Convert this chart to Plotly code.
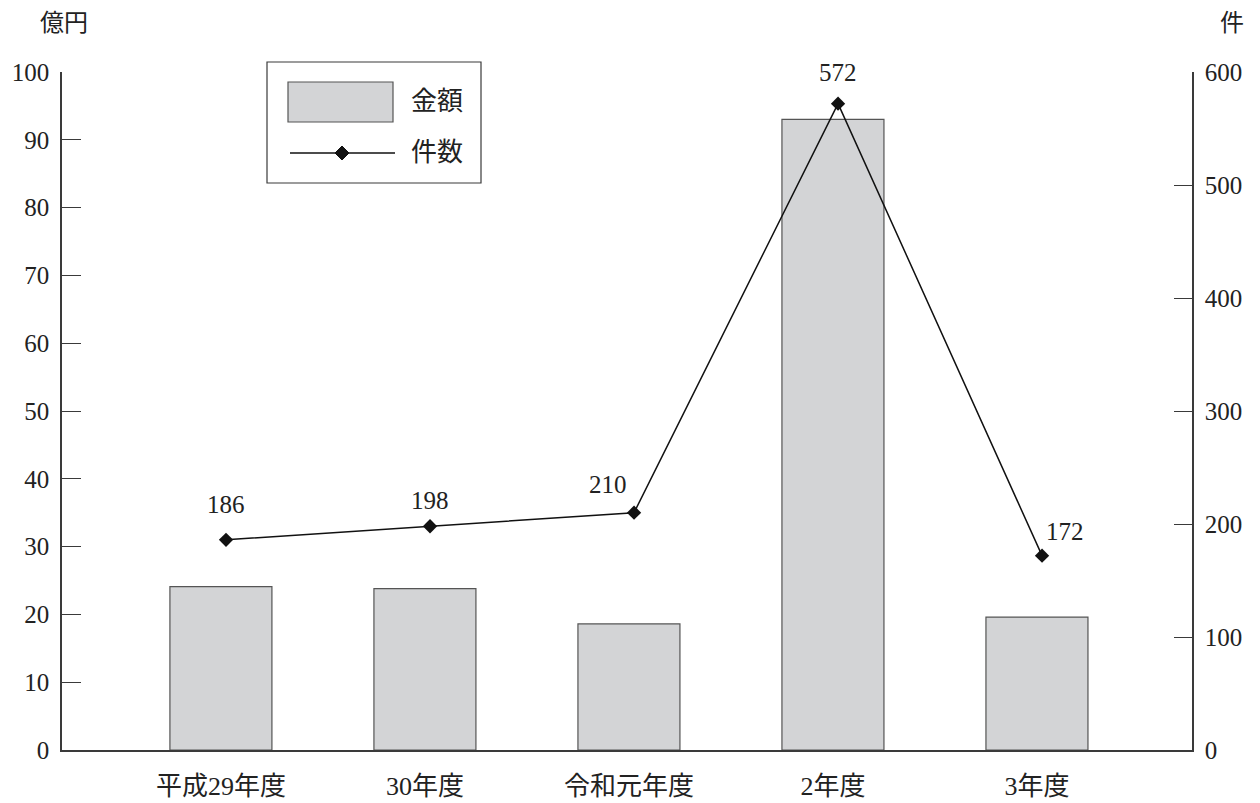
import plotly.graph_objects as go

categories = ["平成29年度", "30年度", "令和元年度", "2年度", "3年度"]
amounts = [24.1, 23.8, 18.6, 93.0, 19.6]      # 億円
counts = [186, 198, 210, 572, 172]            # 件
label_shift_x = [0, 0, -26, 0, 23]
label_shift_y = [35, 26, 28, 31, 24]
left_ticks = [0, 10, 20, 30, 40, 50, 60, 70, 80, 90, 100]
right_ticks = [0, 100, 200, 300, 400, 500, 600]

FONT = "Liberation Serif, Noto Sans CJK JP, serif"
AXIS_COLOR = "#3a3a3a"
BAR_FILL = "#d3d4d6"
BAR_LINE = "#555555"
TXT = "#222222"

fig = go.Figure()
fig.add_trace(go.Bar(
    x=categories, y=amounts, name="金額",
    width=0.5, offset=-0.275,
    marker=dict(color=BAR_FILL, line=dict(color=BAR_LINE, width=1.2)),
    showlegend=False, yaxis="y",
))
fig.add_trace(go.Scatter(
    x=categories, y=counts, name="件数", mode="lines+markers",
    line=dict(color="#111111", width=1.5),
    marker=dict(symbol="diamond", size=11, color="#111111"),
    showlegend=False, yaxis="y2",
))

annotations = []
for c, v, dx, dy in zip(categories, counts, label_shift_x, label_shift_y):
    annotations.append(dict(x=c, y=v, xref="x", yref="y2", text=str(v),
                            showarrow=False, xshift=dx, yshift=dy,
                            xanchor="center", yanchor="middle",
                            font=dict(family=FONT, size=25, color=TXT)))


def px(xp):
    return (xp - 62) / 1130


def py(yp):
    return (750 - yp) / 678


# axis unit titles
annotations.append(dict(x=px(64), y=py(23), xref="paper", yref="paper", text="億円",
                        showarrow=False, xanchor="center", yanchor="middle",
                        font=dict(family=FONT, size=24, color=TXT)))
annotations.append(dict(x=px(1232), y=py(23), xref="paper", yref="paper", text="件",
                        showarrow=False, xanchor="center", yanchor="middle",
                        font=dict(family=FONT, size=24, color=TXT)))

# legend (drawn in paper space)
shapes = [
    dict(type="rect", xref="paper", yref="paper", x0=px(267), x1=px(481), y0=py(62), y1=py(183),
         line=dict(color=AXIS_COLOR, width=1.2), fillcolor="white", layer="above"),
    dict(type="rect", xref="paper", yref="paper", x0=px(288), x1=px(393), y0=py(82), y1=py(122),
         line=dict(color=BAR_LINE, width=1.2), fillcolor=BAR_FILL, layer="above"),
    dict(type="line", xref="paper", yref="paper", x0=px(290), x1=px(395), y0=py(153), y1=py(153),
         line=dict(color="#111111", width=1.5), layer="above"),
    dict(type="path", xref="paper", yref="paper", xsizemode="pixel", ysizemode="pixel",
         xanchor=px(342), yanchor=py(153), path="M 0,7 L 7,0 L 0,-7 L -7,0 Z",
         fillcolor="#111111", line=dict(color="#111111", width=1), layer="above"),
]
annotations.append(dict(x=px(409), y=py(102), xref="paper", yref="paper", text="金額",
                        showarrow=False, xanchor="left", yanchor="middle",
                        font=dict(family=FONT, size=26, color=TXT)))
annotations.append(dict(x=px(409), y=py(152), xref="paper", yref="paper", text="件数",
                        showarrow=False, xanchor="left", yanchor="middle",
                        font=dict(family=FONT, size=26, color=TXT)))

# page body has an 8px default margin, so the figure is sized/offset to compensate
fig.update_layout(
    width=1252, height=795,
    margin=dict(l=54, r=68, t=64, b=53, autoexpand=False),
    paper_bgcolor="white", plot_bgcolor="white",
    font=dict(family=FONT, size=24, color=TXT),
    xaxis=dict(
        range=[-0.804, 4.735], showgrid=False, zeroline=False, automargin=False,
        showline=True, linecolor=AXIS_COLOR, linewidth=1.5,
        ticks="", ticklabelstandoff=12, ticklabelshift=-5,
        tickfont=dict(family=FONT, size=26, color=TXT),
    ),
    yaxis=dict(
        range=[0, 100], tickvals=left_ticks, showgrid=False, zeroline=False, automargin=False,
        showline=True, linecolor=AXIS_COLOR, linewidth=1.5,
        ticks="inside", ticklen=19, tickcolor=AXIS_COLOR, tickwidth=1.2,
        ticklabelstandoff=6,
        tickfont=dict(family=FONT, size=25, color=TXT),
    ),
    yaxis2=dict(
        range=[0, 600], tickvals=right_ticks, overlaying="y", side="right",
        showgrid=False, zeroline=False, automargin=False,
        showline=True, linecolor=AXIS_COLOR, linewidth=1.5,
        ticks="inside", ticklen=18, tickcolor=AXIS_COLOR, tickwidth=1.2,
        ticklabelstandoff=6,
        tickfont=dict(family=FONT, size=25, color=TXT),
    ),
    shapes=shapes,
    annotations=annotations,
)

fig.write_html("out.html")
